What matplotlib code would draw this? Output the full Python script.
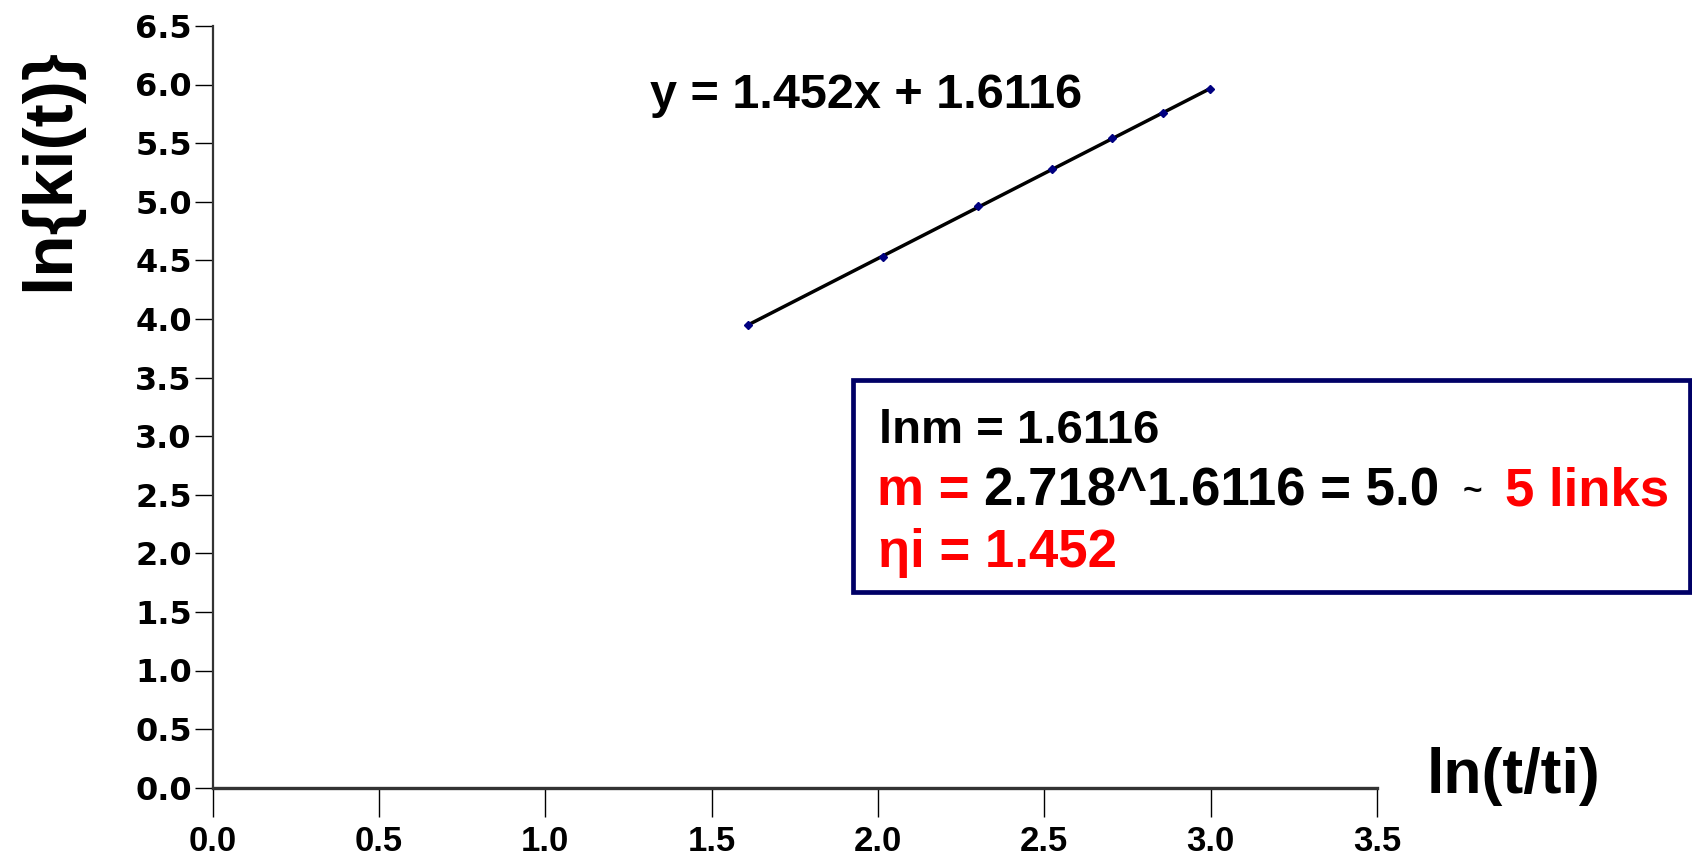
import numpy as np
import matplotlib
matplotlib.use('Agg')
import matplotlib.pyplot as plt
from matplotlib.patches import Rectangle

# ln(t/ti) and ln{ki(t)}
x_vals = [1.609, 2.014, 2.302, 2.523, 2.704, 2.857, 2.999]
y_vals = [3.95, 4.53, 4.96, 5.28, 5.54, 5.76, 5.96]
slope = 1.452
intercept = 1.6116
x_ticks = [0.0, 0.5, 1.0, 1.5, 2.0, 2.5, 3.0, 3.5]
y_ticks = [0.0, 0.5, 1.0, 1.5, 2.0, 2.5, 3.0, 3.5, 4.0, 4.5, 5.0, 5.5, 6.0, 6.5]

W, H = 1692, 858
fig = plt.figure(figsize=(W / 100, H / 100), dpi=100)
ax = fig.add_axes([212.6 / W, 1 - 787.7 / H, (1377 - 212.6) / W, (787.7 - 25.9) / H])

# trend line from the fitted coefficients
xs = np.array([x_vals[0], x_vals[-1]])
ax.plot(xs, slope * xs + intercept, color='black', lw=2.5, zorder=2)
ax.plot(x_vals, y_vals, ls='none', marker='D', ms=4.5, color='#000080', zorder=3)

ax.set_xlim(0, 3.5)
ax.set_ylim(0, 6.5)
ax.set_xticks(x_ticks)
ax.set_yticks(y_ticks)
ax.set_xticklabels(['%.1f' % v for v in x_ticks],
                   family='Liberation Sans', fontweight='bold', fontsize=25)
ax.set_yticklabels(['%.1f' % v for v in y_ticks],
                   family='DejaVu Sans', fontweight='bold', fontsize=23)
ax.tick_params(axis='x', direction='out', length=21, width=1, pad=6, colors='black')
ax.tick_params(axis='y', direction='out', length=13, width=1, pad=2, colors='black')

for s in ['top', 'right']:
    ax.spines[s].set_visible(False)
ax.spines['left'].set_linewidth(1.6)
ax.spines['left'].set_color('#333333')
ax.spines['bottom'].set_linewidth(2.4)
ax.spines['bottom'].set_color('#333333')

def fx(px):
    return px / W

def fy(py):
    return 1 - py / H

bold = dict(family='Liberation Sans', fontweight='bold')

fig.text(fx(50), fy(170), 'ln{ki(t)}', rotation=90, ha='center', va='center',
         fontsize=50, **bold)
fig.text(fx(1513), fy(793), 'ln(t/ti)', ha='center', va='baseline', fontsize=45, **bold)
fig.text(fx(866), fy(108), 'y = 1.452x + 1.6116', ha='center', va='baseline',
         fontsize=35, **bold)

# info box
fig.patches.append(Rectangle((fx(853), fy(592)), fx(1690) - fx(853), fy(380) - fy(592),
                             transform=fig.transFigure, fill=False,
                             edgecolor='#000066', lw=3.4))

fig.text(fx(879), fy(443), 'lnm = 1.6116', color='black', fontsize=34, va='baseline', **bold)
fig.text(fx(877), fy(505), 'm =', color='red', fontsize=38, va='baseline', **bold)
fig.text(fx(984), fy(505), '2.718^1.6116 = 5.0', color='black', fontsize=38, va='baseline', **bold)
fig.text(fx(1463), fy(500), '~', color='black', fontsize=24, va='baseline', **bold)
fig.text(fx(1505), fy(505), '5 links', color='red', fontsize=38, va='baseline', **bold)
fig.text(fx(878), fy(567), 'ηi = 1.452', color='red', fontsize=38, va='baseline', **bold)

fig.savefig('out.png', dpi=100)
